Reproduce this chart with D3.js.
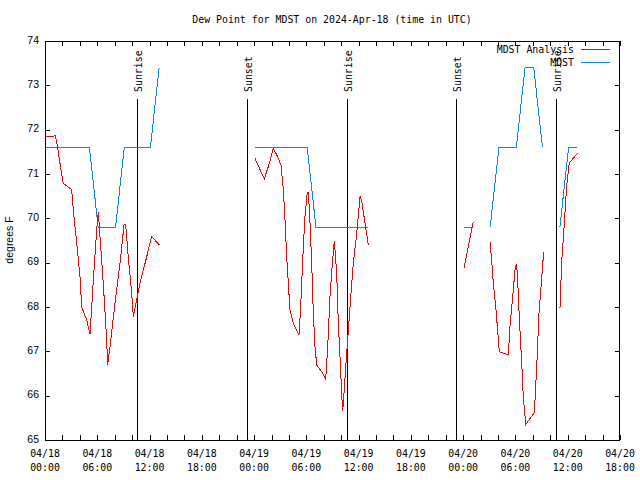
<!DOCTYPE html>
<html><head><meta charset="utf-8">
<script src="https://cdn.jsdelivr.net/npm/d3@7"></script>
<style>body{margin:0;background:#fff}svg{display:block}</style>
</head><body>
<svg id="chart" width="640" height="480"></svg>
<script>
// ---- data (hours after 2024-04-18 00:00 UTC) ----
const titleText = "Dew Point for MDST on 2024-Apr-18 (time in UTC)";
const yLabel = "degrees F";
const seriesNames = ["MDST Analysis", "MDST"];
const yTicks = [65, 66, 67, 68, 69, 70, 71, 72, 73, 74];

const redTimes = [0.11,1.18,1.34,1.72,2.1,3.06,3.25,3.64,4.02,4.21,4.78,5.17,5.55,5.93,6.12,6.31,6.69,7.08,7.19,7.46,8.03,8.61,9.07,9.26,9.56,9.95,10.14,10.52,10.9,11.67,12.24,13.12,
  null,
  24.1,25.17,25.75,26.2,26.6,27.09,27.36,27.55,27.74,27.93,28.12,28.5,29.15,29.35,29.65,29.84,30.11,30.23,30.42,30.61,30.8,30.99,31.19,31.76,32.22,32.45,32.71,32.98,33.21,33.29,33.48,33.67,33.86,34.05,34.17,34.32,34.55,34.82,35.09,35.39,35.78,36.16,36.35,36.73,37.11,
  null,
  48.09,49.16,
  null,
  51.08,51.27,51.46,51.77,52.15,53.18,53.37,53.68,53.95,54.1,54.22,54.44,54.72,54.9,55.18,56.17,56.44,56.7,57.01,57.24,
  null,
  59.11,59.3,59.56,59.87,60.18,60.45,61.14];
const redValues = [71.84,71.86,71.73,71.24,70.79,70.65,70.19,69.44,68.68,68.0,67.71,67.39,68.61,69.74,70.15,69.59,68.53,67.26,66.69,67.1,68.08,68.99,69.85,69.85,69.13,68.31,67.78,68.16,68.53,69.13,69.59,69.4,
  null,
  71.35,70.89,71.24,71.58,71.43,71.2,70.64,69.96,69.13,68.53,67.93,67.63,67.37,68.01,69.36,70.04,70.59,70.59,69.89,68.99,67.86,67.1,66.69,66.54,66.37,67.1,68.23,68.99,69.49,69.29,68.76,67.63,66.88,66.05,65.65,66.05,66.73,67.48,68.23,68.99,69.66,70.49,70.4,69.89,69.4,
  null,
  68.87,69.92,
  null,
  69.47,69.06,68.53,67.93,66.99,66.92,67.56,68.23,68.83,68.97,68.76,67.78,66.73,65.98,65.35,65.62,66.65,67.86,68.65,69.25,
  null,
  67.98,68.99,69.74,70.71,71.25,71.31,71.47];

const blueTimes = [0.1,1.1,2.1,3.1,4.1,5.1,6.1,7.1,8.1,9.1,10.1,11.1,12.1,13.1,
  null,
  24.1,25.1,26.1,27.1,28.1,29.1,30.1,31.1,32.1,33.1,34.1,35.1,36.1,37.1,
  null,
  48.1,49.1,
  null,
  51.1,52.1,53.1,54.1,55.1,56.1,57.1,
  null,
  59.1,60.1,61.1];
const blueValues = [71.6,71.6,71.6,71.6,71.6,71.6,69.8,69.8,69.8,71.6,71.6,71.6,71.6,73.4,
  null,
  71.6,71.6,71.6,71.6,71.6,71.6,71.6,69.8,69.8,69.8,69.8,69.8,69.8,69.8,
  null,
  69.8,69.8,
  null,
  69.8,71.6,71.6,71.6,73.4,73.4,71.6,
  null,
  69.8,71.6,71.6];

const sunLabels = ["Sunrise", "Sunset", "Sunrise", "Sunset", "Sunrise"];
const sunTimes = [10.56, 23.19, 34.66, 47.18, 58.65];

// ---- drawing ----
const t0 = Date.UTC(2024, 3, 18, 0, 0);
const toDate = h => new Date(t0 + h * 3600e3);
const L = 45, R = 620, T = 41, B = 440;
const svg = d3.select("#chart");
const x = d3.scaleUtc().domain([toDate(0), toDate(66)]).range([L, R]);
const y = d3.scaleLinear().domain([65, 74]).range([B, T]);
const mono = "'DejaVu Sans Mono', monospace";
const sans = "'Liberation Sans', Arial, sans-serif";

svg.append("rect").attr("width", 640).attr("height", 480).attr("fill", "#fff");

// title
svg.append("text").attr("x", 332).attr("y", 20).attr("text-anchor", "middle")
  .attr("dominant-baseline", "middle").attr("font-family", mono).attr("font-size", 9.9)
  .text(titleText);

// ticks
const xTickHours = d3.range(0, 67, 2);
const tickG = svg.append("g").attr("stroke", "#000").attr("stroke-width", 1).attr("shape-rendering", "crispEdges");
xTickHours.forEach(h => {
  const xx = Math.round(x(toDate(h))) + 0.5;
  tickG.append("line").attr("x1", xx).attr("x2", xx).attr("y1", B).attr("y2", B - 5);
  tickG.append("line").attr("x1", xx).attr("x2", xx).attr("y1", T).attr("y2", T + 5);
});
yTicks.forEach(v => {
  const yy = Math.round(y(v)) + 0.5;
  tickG.append("line").attr("x1", L).attr("x2", L + 5).attr("y1", yy).attr("y2", yy);
  tickG.append("line").attr("x1", R).attr("x2", R - 5).attr("y1", yy).attr("y2", yy);
});

// x labels
const fmtD = d3.utcFormat("%m/%d"), fmtH = d3.utcFormat("%H:%M");
x.ticks(d3.utcHour.every(6)).forEach(d => {
  const g = svg.append("text").attr("text-anchor", "middle").attr("font-family", mono)
    .attr("font-size", 9.9).attr("dominant-baseline", "middle");
  g.append("tspan").attr("x", x(d)).attr("y", 454).text(fmtD(d));
  g.append("tspan").attr("x", x(d)).attr("y", 468).text(fmtH(d));
});
// y labels
yTicks.forEach(v => {
  svg.append("text").attr("x", 39).attr("y", y(v)).attr("text-anchor", "end")
    .attr("dominant-baseline", "middle").attr("font-family", sans).attr("font-size", 10.5).text(v);
});
svg.append("text").attr("transform", "translate(13,240) rotate(-90)").attr("text-anchor", "middle")
  .attr("font-family", sans).attr("font-size", 10.5).text(yLabel);

// sunrise/sunset
sunTimes.forEach((h, i) => {
  const xx = Math.round(x(toDate(h))) + 0.5;
  svg.append("line").attr("x1", xx).attr("x2", xx).attr("y1", 99).attr("y2", B)
    .attr("stroke", "#000").attr("stroke-width", 1).attr("shape-rendering", "crispEdges");
  svg.append("text").attr("transform", `translate(${xx + 4},92) rotate(-90)`)
    .attr("font-family", mono).attr("font-size", 9.9).text(sunLabels[i]);
});

// series
const line = d3.line().defined(d => d[0] != null && d[1] != null)
  .x(d => x(toDate(d[0]))).y(d => y(d[1]));
const red = redTimes.map((t, i) => [t, redValues[i]]);
const blue = blueTimes.map((t, i) => [t, blueValues[i]]);
const colors = ["#ff0000", "#0a84ff"];
svg.append("path").datum(blue).attr("d", line).attr("fill", "none").attr("stroke", colors[1])
  .attr("stroke-width", 1).attr("shape-rendering", "crispEdges");
svg.append("path").datum(red).attr("d", line).attr("fill", "none").attr("stroke", colors[0])
  .attr("stroke-width", 1).attr("shape-rendering", "crispEdges");

// legend
seriesNames.forEach((n, i) => {
  const yy = 49.5 + i * 13;
  svg.append("text").attr("x", 574).attr("y", yy).attr("text-anchor", "end")
    .attr("dominant-baseline", "middle").attr("font-family", mono).attr("font-size", 9.9).text(n);
  svg.append("line").attr("x1", 581).attr("x2", 610).attr("y1", yy).attr("y2", yy)
    .attr("stroke", colors[i]).attr("stroke-width", 1).attr("shape-rendering", "crispEdges");
});

// frame
svg.append("rect").attr("x", L + 0.5).attr("y", T + 0.5).attr("width", R - L - 1).attr("height", B - T)
  .attr("fill", "none").attr("stroke", "#000").attr("shape-rendering", "crispEdges");
</script>
</body></html>
